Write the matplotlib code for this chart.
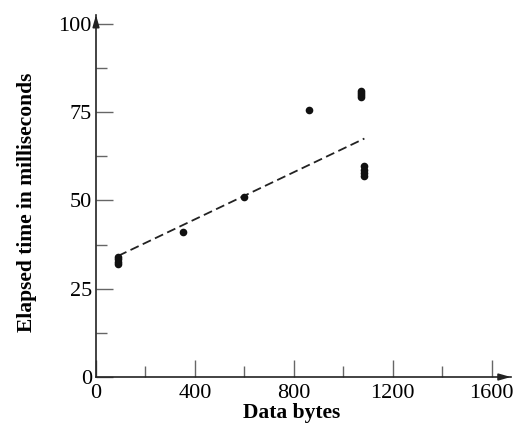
import numpy as np
import matplotlib.pyplot as plt
from matplotlib.ticker import MultipleLocator

# Measured points (data bytes vs elapsed time, ms)
data_bytes = np.array([90, 90, 90, 90, 350, 600, 860,
                       1070, 1070, 1070, 1070, 1085, 1085, 1085, 1085])
elapsed_ms = np.array([34, 33.3, 32.6, 32, 41, 51, 75.5,
                       81, 80.4, 79.8, 79.3, 59.6, 58.6, 57.7, 57])

# Dashed fit line end points
fit_x = [90, 1085]
fit_y = [34.3, 67.5]

plt.rcParams['font.family'] = ['Liberation Serif', 'DejaVu Serif']

fig = plt.figure(figsize=(5.14, 4.26), dpi=100)
ax = fig.add_axes([0.1868, 0.115, 0.807, 0.85])

ax.plot(fit_x, fit_y, color='#222222', lw=1.3, ls=(0, (5, 2.5)))
ax.plot(data_bytes, elapsed_ms, 'o', color='#111111', ms=5.5, mec='none')

ax.set_xlim(0, 1677)
ax.set_ylim(0, 102.5)

ax.spines['top'].set_visible(False)
ax.spines['right'].set_visible(False)
for s in ['left', 'bottom']:
    ax.spines[s].set_linewidth(1.2)
    ax.spines[s].set_color('#222222')

# arrow heads on the axes
ax.annotate('', xy=(1.0, 0), xytext=(0.97, 0), xycoords=ax.get_yaxis_transform(),
            arrowprops=dict(arrowstyle='-|>,head_length=0.7,head_width=0.2',
                            color='#222222', lw=1.2, shrinkA=0, shrinkB=0))
ax.annotate('', xy=(0, 1.0), xytext=(0, 0.97), xycoords=ax.get_xaxis_transform(),
            arrowprops=dict(arrowstyle='-|>,head_length=0.7,head_width=0.2',
                            color='#222222', lw=1.2, shrinkA=0, shrinkB=0))

ax.set_xticks([0, 400, 800, 1200, 1600])
ax.set_yticks([0, 25, 50, 75, 100])
ax.xaxis.set_minor_locator(MultipleLocator(200))
ax.yaxis.set_minor_locator(MultipleLocator(12.5))

ax.tick_params(which='both', direction='in', color='#666666', width=1.0, labelsize=16)
ax.tick_params(axis='x', pad=5)
ax.tick_params(axis='y', pad=3)
ax.tick_params(which='major', length=12)
ax.tick_params(which='minor', length=8)

ax.set_xlabel('Data bytes', fontsize=15.5, fontweight='bold')
ax.set_ylabel('Elapsed time in milliseconds', fontsize=15.5, fontweight='bold')
ax.xaxis.set_label_coords(0.472, -0.072)
ax.yaxis.set_label_coords(-0.143, 0.483)

fig.savefig('out.png', dpi=100)
